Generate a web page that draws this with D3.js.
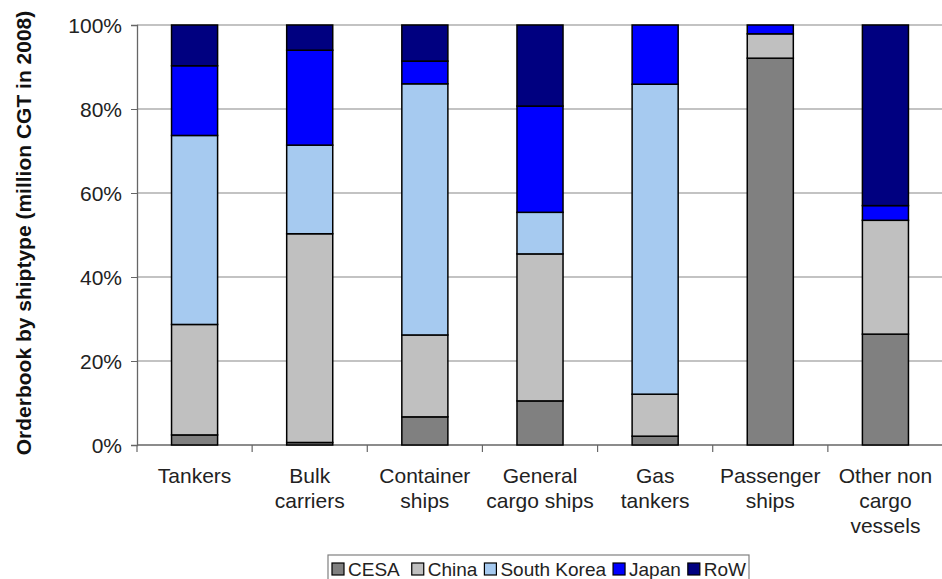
<!DOCTYPE html>
<html>
<head>
<meta charset="utf-8">
<script src="https://cdn.jsdelivr.net/npm/d3@7"></script>
<style>
  body { margin: 0; background: #fff; }
  svg { display: block; font-family: "Liberation Sans", Arial, sans-serif; }
</style>
</head>
<body>
<svg id="chart" width="942" height="579"></svg>
<script>
// categories (label lines) and series values, percent of orderbook
const categories = ["Tankers", "Bulk carriers", "Container ships", "General cargo ships", "Gas tankers", "Passenger ships", "Other non cargo vessels"];
const labelLines = [["Tankers"], ["Bulk", "carriers"], ["Container", "ships"], ["General", "cargo ships"], ["Gas", "tankers"], ["Passenger", "ships"], ["Other non", "cargo", "vessels"]];
const seriesNames = ["CESA", "China", "South Korea", "Japan", "RoW"];
const cesa       = [2.4, 0.6, 6.7, 10.5, 2.1, 92.1, 26.4];
const china      = [26.3, 49.7, 19.5, 35.0, 10.0, 5.8, 27.1];
const southKorea = [45.0, 21.1, 59.8, 9.9, 73.8, 0, 0];
const japan      = [16.6, 22.6, 5.4, 25.3, 14.1, 2.1, 3.5];
const row        = [9.7, 6.0, 8.6, 19.3, 0, 0, 43.0];
const yTicks = [0, 20, 40, 60, 80, 100];

const colors = ["#808080", "#c0c0c0", "#a6caf0", "#0000ff", "#000080"];

const table = categories.map((c, i) => ({
  cat: c,
  "CESA": cesa[i], "China": china[i], "South Korea": southKorea[i], "Japan": japan[i], "RoW": row[i]
}));

const svg = d3.select("#chart");
const plotLeft = 137, plotRight = 943, plotTop = 25, plotBottom = 445;

const x = d3.scaleBand().domain(categories).range([plotLeft, plotRight])
  .paddingInner(0.6).paddingOuter(0.3);
const y = d3.scaleLinear().domain([0, 100]).range([plotBottom, plotTop]);

// gridlines
svg.append("g").selectAll("line")
  .data(yTicks.filter(d => d > 0))
  .enter().append("line")
  .attr("x1", plotLeft).attr("x2", plotRight)
  .attr("y1", d => y(d)).attr("y2", d => y(d))
  .attr("stroke", "#888").attr("stroke-width", 1.2);

// y axis
const yAxis = svg.append("g")
  .attr("transform", `translate(${plotLeft},0)`)
  .call(d3.axisLeft(y).tickValues(yTicks).tickSize(6).tickFormat(d => d + "%"));
yAxis.select(".domain").attr("stroke", "#666").attr("stroke-width", 1.3);
yAxis.selectAll(".tick line").attr("stroke", "#666");
yAxis.selectAll("text").attr("font-size", 21).attr("fill", "#222").attr("x", -15).attr("dy", "0.35em");

// x axis line + ticks at band boundaries
svg.append("line").attr("x1", plotLeft).attr("x2", plotRight)
  .attr("y1", plotBottom).attr("y2", plotBottom)
  .attr("stroke", "#666").attr("stroke-width", 1.3);
svg.append("g").selectAll("line")
  .data(d3.range(categories.length + 1))
  .enter().append("line")
  .attr("x1", i => plotLeft + i * x.step()).attr("x2", i => plotLeft + i * x.step())
  .attr("y1", plotBottom).attr("y2", plotBottom + 7)
  .attr("stroke", "#666").attr("stroke-width", 1.2);

// stacked bars
const stack = d3.stack().keys(seriesNames)(table);
svg.append("g").selectAll("g")
  .data(stack)
  .enter().append("g")
  .attr("fill", (d, i) => colors[i])
  .selectAll("rect")
  .data(d => d)
  .enter().append("rect")
  .attr("x", d => x(d.data.cat))
  .attr("width", x.bandwidth())
  .attr("y", d => y(d[1]))
  .attr("height", d => y(d[0]) - y(d[1]))
  .attr("stroke", "#000").attr("stroke-width", 1.5);

// category labels
const lab = svg.append("g").selectAll("text")
  .data(categories)
  .enter().append("text")
  .attr("x", d => x(d) + x.bandwidth() / 2)
  .attr("y", 483)
  .attr("text-anchor", "middle")
  .attr("font-size", 21)
  .attr("fill", "#222");
lab.selectAll("tspan")
  .data((d, i) => labelLines[i])
  .enter().append("tspan")
  .attr("x", function() { return this.parentNode.getAttribute("x"); })
  .attr("dy", (d, i) => i === 0 ? 0 : 25)
  .text(d => d);

// y axis title
svg.append("text")
  .attr("transform", "translate(31,233) rotate(-90)")
  .attr("text-anchor", "middle")
  .attr("font-size", 21)
  .attr("font-weight", "bold")
  .attr("fill", "#111")
  .text("Orderbook by shiptype (million CGT in 2008)");

// legend
const legend = svg.append("g");
legend.append("rect")
  .attr("x", 328).attr("y", 555).attr("width", 421).attr("height", 40)
  .attr("fill", "#fff").attr("stroke", "#808080").attr("stroke-width", 1.2);
let lx = 332;
seriesNames.forEach((name, i) => {
  legend.append("rect")
    .attr("x", lx).attr("y", 563).attr("width", 12).attr("height", 12)
    .attr("fill", colors[i]).attr("stroke", "#000").attr("stroke-width", 1.2);
  const t = legend.append("text")
    .attr("x", lx + 16).attr("y", 576)
    .attr("font-size", 19).attr("fill", "#222")
    .text(name);
  lx += 16 + t.node().getComputedTextLength() + (i === 0 ? 12 : 7);
});
</script>
</body>
</html>
